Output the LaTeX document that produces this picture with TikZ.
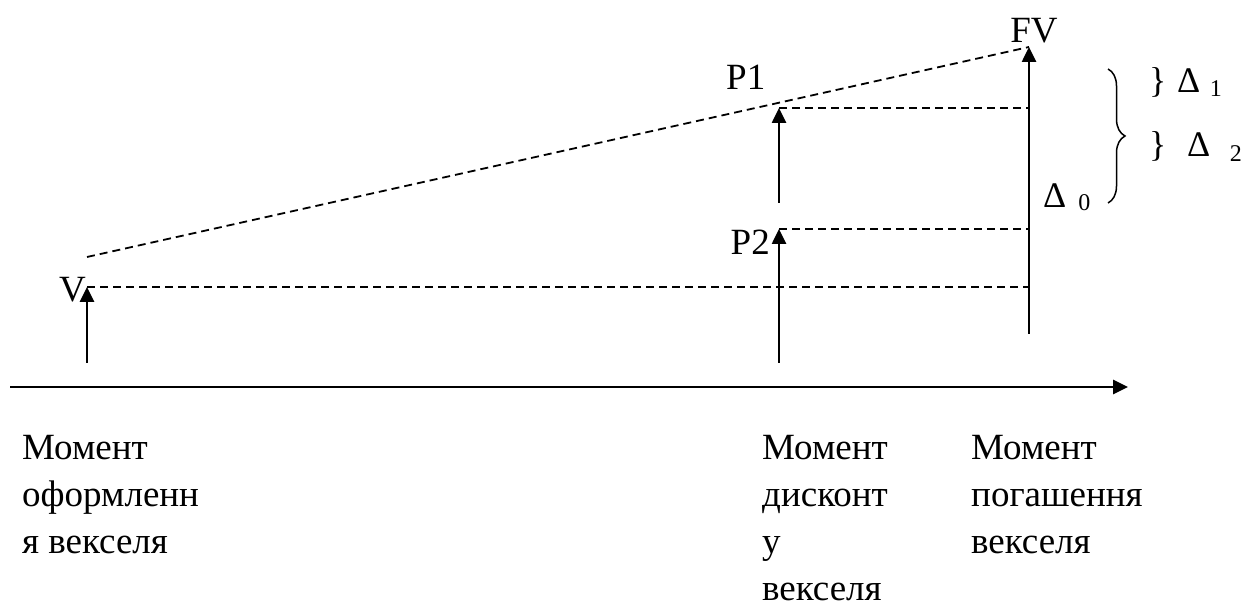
\documentclass[tikz,border=0pt]{standalone}
\usepackage{fontspec}
\usepackage{graphicx}
\setmainfont{Liberation Serif}
\usepackage{tikz}
\usetikzlibrary{arrows.meta,positioning,calc,decorations.pathreplacing}
\newcommand{\dsym}{{\fontsize{36}{40}\selectfont Δ}}
\newcommand{\dsub}[2]{\raisebox{#1}{\fontsize{24}{28}\selectfont #2}}
\tikzset{
  vecarr/.style={-{Triangle[length=15pt,width=14pt]}, line width=2.6pt},
  guide/.style={dash pattern=on 8pt off 5pt, line width=1.8pt},
  lbl/.style={font=\fontsize{37}{42}\selectfont, inner sep=0pt},
  brc/.style={font=\fontsize{36}{40}\selectfont, inner sep=0pt, anchor=base west},
  caption/.style={font=\fontsize{37}{47}\selectfont, align=left, inner sep=0pt,
                  anchor=north west},
  bigbrace/.style={decorate, decoration={brace, amplitude=17pt}, line width=1.5pt},
}

\begin{document}
\begin{tikzpicture}[x=1pt,y=1pt]
  \useasboundingbox (0,0) rectangle (1242,607);
  \coordinate (ax0) at (10,220);
  \coordinate (ax1) at (1128,220);
  \coordinate (V0) at (87,244);
  \coordinate (V) at (87,320);
  \coordinate (D0) at (779,244);
  \coordinate (P2) at (779,378);
  \coordinate (D1) at (779,404);
  \coordinate (P1) at (779,499);
  \coordinate (F0) at (1029,273);
  \coordinate (FV) at (1029,560);
  \coordinate (sl0) at (87,350);
  \coordinate (bT) at (1108,538);
  \coordinate (bB) at (1108,404);

  \draw[vecarr] (ax0) -- (ax1);
  \draw[vecarr] (V0) -- (V);
  \draw[vecarr] (D0) -- (P2);
  \draw[vecarr] (D1) -- (P1);
  \draw[vecarr] (F0) -- (FV);

  \draw[guide] (sl0) -- (FV);
  \draw[guide] (V) -- (V -| FV);
  \draw[guide] (P2) -- (P2 -| FV);
  \draw[guide] (P1) -- (P1 -| FV);

  \node[lbl, anchor=base east] (lV) at (86,305) {V};
  \node[lbl, anchor=base east] (lP2) at (770,352) {P2};
  \node[lbl, anchor=base west] (lP1) at (726,517) {P1};
  \node[lbl, anchor=base] (lFV) at (1034,564) {FV};

  \draw[bigbrace] (bT) -- (bB);
  \node[brc] (d1) at (1149,514) {\}\hspace{10.7pt}\dsym\hspace{9.5pt}\dsub{-4pt}{1}};
  \node[brc] (d2) at (1149,450) {\}\hspace{20.7pt}\dsym\hspace{19.5pt}\dsub{-5pt}{2}};
  \node[brc] (d0) at (1043,399) {\dsym\hspace{12pt}\dsub{-3pt}{0}};

  \node[caption] (tIssue) at (22,172) {Момент\\оформленн\\я векселя};
  \node[caption] (tDisc) at (762,172) {Момент\\дисконт\\у\\векселя};
  \node[caption] (tRedeem) at (971,172) {Момент\\погашення\\векселя};
\end{tikzpicture}
\end{document}
